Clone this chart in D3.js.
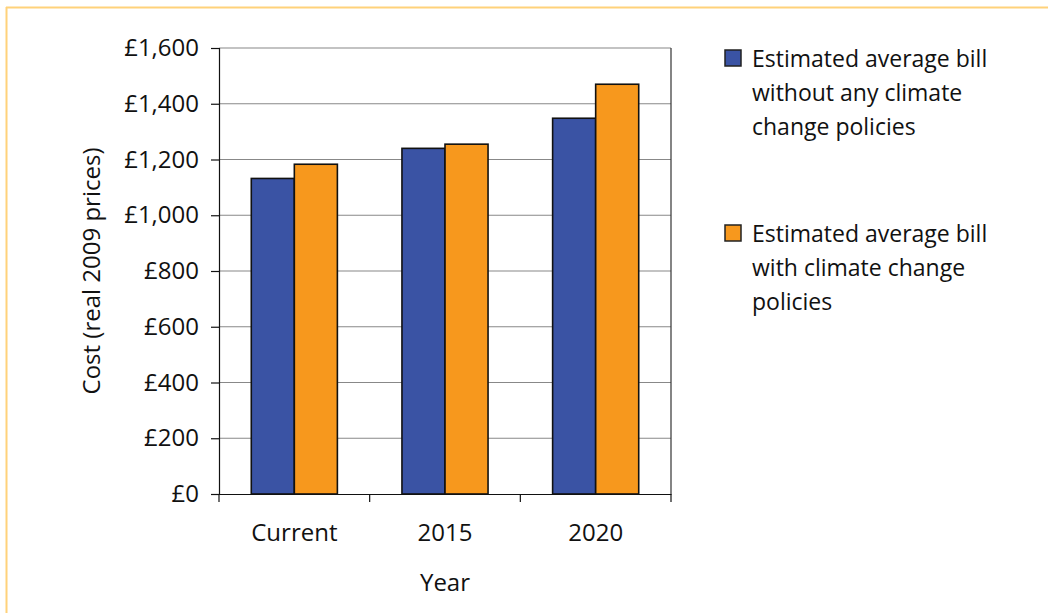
<!DOCTYPE html>
<html>
<head>
<meta charset="utf-8">
<script src="https://cdn.jsdelivr.net/npm/d3@7"></script>
<style>
  body { margin: 0; background: #fff; }
  text { font-family: "Open Sans", sans-serif; fill: #111; }
</style>
</head>
<body>
<div class="barchart"></div>
<script>
var categories = ["Current", "2015", "2020"];
var seriesNames = [
  ["Estimated average bill", "without any climate", "change policies"],
  ["Estimated average bill", "with climate change", "policies"]
];
var withoutPolicies = [1132, 1240, 1348];
var withPolicies = [1183, 1255, 1470];
var yTicks = [0, 200, 400, 600, 800, 1000, 1200, 1400, 1600];
var colors = ["#3A53A4", "#F7981D"];

var svgWidth = 1048;
var svgHeight = 613;
var fontFam = "Open Sans, sans-serif";
var fontSize = 24;

var margin = { top: 48, left: 219, right: 377, bottom: 119 };
var width = svgWidth - margin.left - margin.right;
var height = svgHeight - margin.top - margin.bottom;

var svg = d3.select(".barchart")
  .append("svg")
  .attr("width", svgWidth)
  .attr("height", svgHeight);

// light orange frame, top and left edges
svg.append("line").attr("x1", 6).attr("x2", svgWidth).attr("y1", 7.5).attr("y2", 7.5)
  .attr("stroke", "#FFD27A").attr("stroke-width", 2);
svg.append("line").attr("x1", 6.5).attr("x2", 6.5).attr("y1", 7).attr("y2", svgHeight)
  .attr("stroke", "#FFD27A").attr("stroke-width", 2);

var chartGroup = svg.append("g")
  .attr("transform", `translate(${margin.left}, ${margin.top})`);

var x0 = d3.scaleBand().domain(categories).range([0, width]);
var barW = x0.bandwidth() / 3.5;
var yScale = d3.scaleLinear().domain([0, 1600]).range([height, 0]);

// gridlines
chartGroup.selectAll(".grid")
  .data(yTicks.slice(1))
  .enter()
  .append("line")
  .attr("x1", 0).attr("x2", width)
  .attr("y1", d => yScale(d)).attr("y2", d => yScale(d))
  .attr("stroke", "#888").attr("stroke-width", 1.2);

// right edge of plot area
chartGroup.append("line")
  .attr("x1", width).attr("x2", width).attr("y1", 0).attr("y2", height)
  .attr("stroke", "#333").attr("stroke-width", 1.2);

var data = categories.map((c, i) => ({ cat: c, vals: [withoutPolicies[i], withPolicies[i]] }));

var groups = chartGroup.selectAll(".grp")
  .data(data)
  .enter()
  .append("g")
  .attr("transform", d => `translate(${x0(d.cat) + x0.bandwidth() / 2 - barW}, 0)`);

groups.selectAll("rect")
  .data(d => d.vals)
  .enter()
  .append("rect")
  .attr("x", (d, i) => i * barW)
  .attr("y", d => yScale(d))
  .attr("width", barW)
  .attr("height", d => height - yScale(d))
  .attr("fill", (d, i) => colors[i])
  .attr("stroke", "#111")
  .attr("stroke-width", 1.6);

// y axis
var leftAxis = d3.axisLeft(yScale)
  .tickValues(yTicks)
  .tickSize(8)
  .tickPadding(12)
  .tickFormat(d => "£" + d3.format(",")(d));

var yAxis = chartGroup.append("g").call(leftAxis);
yAxis.select(".domain").attr("stroke", "#111").attr("stroke-width", 1.2);
yAxis.selectAll(".tick line").attr("stroke", "#111").attr("stroke-width", 1.2);
yAxis.selectAll("text").attr("font-size", fontSize).style("font-family", fontFam).attr("fill", "#111");

// x axis with ticks between categories
var bottomAxis = d3.axisBottom(x0).tickSize(0).tickPadding(30);
var xAxis = chartGroup.append("g")
  .attr("transform", `translate(0, ${height})`)
  .call(bottomAxis);
xAxis.select(".domain").attr("stroke", "#111").attr("stroke-width", 1.2);
xAxis.selectAll("text").attr("font-size", fontSize).style("font-family", fontFam).attr("fill", "#111");

chartGroup.selectAll(".xtick")
  .data(d3.range(categories.length + 1))
  .enter()
  .append("line")
  .attr("x1", i => i * x0.step()).attr("x2", i => i * x0.step())
  .attr("y1", height).attr("y2", height + 8)
  .attr("stroke", "#111").attr("stroke-width", 1.2);

// axis titles
chartGroup.append("text")
  .attr("transform", "rotate(-90)")
  .attr("x", -height / 2)
  .attr("y", -127)
  .attr("dy", "0.35em")
  .attr("text-anchor", "middle")
  .attr("font-size", fontSize)
  .text("Cost (real 2009 prices)");

chartGroup.append("text")
  .attr("x", width / 2)
  .attr("y", height + 97)
  .attr("text-anchor", "middle")
  .attr("font-size", fontSize)
  .text("Year");

// legend
var legend = svg.append("g").attr("transform", "translate(725, 50)");
var items = legend.selectAll(".item")
  .data(seriesNames)
  .enter()
  .append("g")
  .attr("transform", (d, i) => `translate(0, ${i * 175})`);

items.append("rect")
  .attr("width", 16).attr("height", 16)
  .attr("fill", (d, i) => colors[i])
  .attr("stroke", "#222").attr("stroke-width", 1.5);

items.selectAll("text")
  .data(d => d)
  .enter()
  .append("text")
  .attr("x", 27)
  .attr("y", (d, i) => 17 + i * 34)
  .attr("font-size", 23)
  .text(d => d);
</script>
</body>
</html>
